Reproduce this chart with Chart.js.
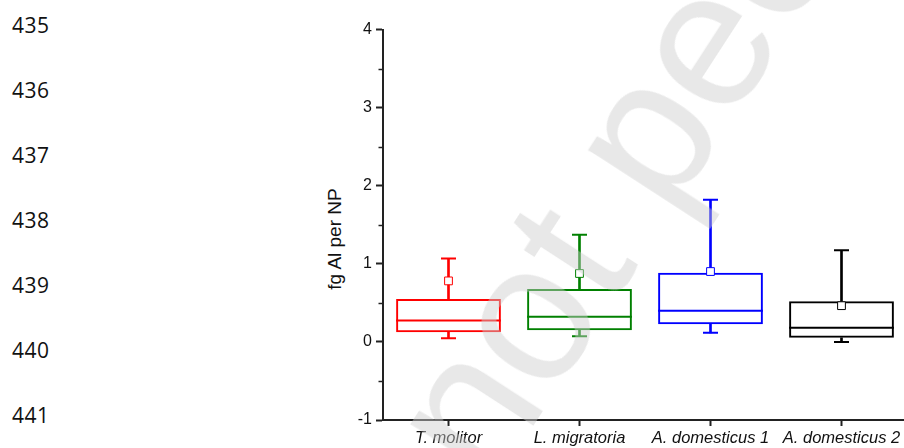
<!DOCTYPE html>
<html>
<head>
<meta charset="utf-8">
<script src="https://cdn.jsdelivr.net/npm/chart.js@4.4.1/dist/chart.umd.min.js"></script>
<style>
html,body{margin:0;padding:0;width:904px;height:448px;overflow:hidden;background:#fff;}
#wm{position:absolute;left:351.5px;top:401.6px;font-family:'Liberation Sans',Arial,sans-serif;font-size:196px;line-height:1;color:rgba(205,205,205,0.46);white-space:nowrap;transform-origin:0 0;transform:rotate(-57deg);z-index:5;}
.ln{position:absolute;left:12px;font-family:'Open Sans',sans-serif;font-size:21px;line-height:1;color:#111;letter-spacing:0.5px;}
#ytitle{position:absolute;left:334px;top:239px;font-family:'Liberation Sans',Arial,sans-serif;font-size:19px;line-height:1;color:#111;white-space:nowrap;transform:translate(-50%,-50%) rotate(-90deg);}
#wrap{position:absolute;left:0;top:0;width:908px;height:448px;z-index:1;}
</style>
</head>
<body>
<div id="lines"></div>
<div id="ytitle">fg Al per NP</div>
<div id="wrap"><canvas id="c" width="908" height="448"></canvas></div>
<div id="wm">not peer-reviewed</div>
<script>
const categories = ['T. molitor', 'L. migratoria', 'A. domesticus 1', 'A. domesticus 2'];
const whiskerLow  = [0.047, 0.073, 0.116, 0.000];
const quartile1   = [0.124, 0.150, 0.227, 0.052];
const medians     = [0.275, 0.322, 0.399, 0.180];
const quartile3   = [0.549, 0.678, 0.884, 0.519];
const whiskerHigh = [1.069, 1.373, 1.820, 1.172];
const means       = [0.781, 0.876, 0.901, 0.464];
const seriesColors = ['#ff0000', '#008000', '#0000ff', '#000000'];
const yMinorTicks = [-0.5, 0.5, 1.5, 2.5, 3.5];
const lineNumbers = ['435', '436', '437', '438', '439', '440', '441'];

// manuscript line numbers
const linesDiv = document.getElementById('lines');
lineNumbers.forEach((t, i) => {
  const d = document.createElement('div');
  d.className = 'ln';
  d.style.top = (15 + i * 65) + 'px';
  d.textContent = t;
  linesDiv.appendChild(d);
});

const FONT = "'Liberation Sans', Arial, sans-serif";
const AXIS = '#222';

const minorTicksPlugin = {
  id: 'minorTicks',
  afterDraw(chart) {
    const y = chart.scales.y, ctx = chart.ctx, x0 = chart.chartArea.left;
    ctx.save();
    ctx.strokeStyle = AXIS;
    ctx.lineWidth = 1.5;
    yMinorTicks.forEach(v => {
      const py = Math.round(y.getPixelForValue(v)) + 0.5;
      ctx.beginPath();
      ctx.moveTo(x0 - 4.5, py);
      ctx.lineTo(x0, py);
      ctx.stroke();
    });
    ctx.restore();
  }
};

new Chart(document.getElementById('c'), {
  type: 'bar',
  data: {
    labels: categories,
    datasets: [
      {
        label: 'upper whisker',
        data: categories.map((c, i) => [quartile3[i], whiskerHigh[i]]),
        backgroundColor: seriesColors,
        borderWidth: 0,
        barThickness: 2,
        grouped: false,
        order: 6
      },
      {
        label: 'lower whisker',
        data: categories.map((c, i) => [whiskerLow[i], quartile1[i]]),
        backgroundColor: seriesColors,
        borderWidth: 0,
        barThickness: 2,
        grouped: false,
        order: 6
      },
      {
        label: 'box',
        data: categories.map((c, i) => [quartile1[i], quartile3[i]]),
        backgroundColor: 'rgba(0,0,0,0)',
        borderColor: seriesColors,
        borderWidth: 2,
        borderSkipped: false,
        barPercentage: 0.8,
        categoryPercentage: 1,
        grouped: false,
        order: 5
      },
      {
        type: 'line',
        label: 'median',
        data: medians,
        showLine: false,
        pointStyle: 'line',
        pointRadius: 52.4,
        pointBorderColor: seriesColors,
        pointBorderWidth: 2,
        order: 4
      },
      {
        type: 'line',
        label: 'max',
        data: whiskerHigh,
        showLine: false,
        pointStyle: 'line',
        pointRadius: 7.5,
        pointBorderColor: seriesColors,
        pointBorderWidth: 2,
        order: 3
      },
      {
        type: 'line',
        label: 'min',
        data: whiskerLow,
        showLine: false,
        pointStyle: 'line',
        pointRadius: 7.5,
        pointBorderColor: seriesColors,
        pointBorderWidth: 2,
        order: 3
      },
      {
        type: 'line',
        label: 'mean',
        data: means,
        showLine: false,
        pointStyle: 'rect',
        pointRadius: 5.5,
        pointBackgroundColor: '#ffffff',
        pointBorderColor: seriesColors,
        pointBorderWidth: 1,
        order: 1
      }
    ]
  },
  options: {
    responsive: false,
    animation: false,
    events: [],
    layout: { autoPadding: false, padding: { left: 320, top: 29.5, right: 1, bottom: 0 } },
    plugins: { legend: { display: false }, tooltip: { enabled: false } },
    scales: {
      x: {
        offset: true,
        grid: { display: true, drawOnChartArea: false, offset: false, tickLength: 6, tickColor: AXIS, tickWidth: 2 },
        border: { display: true, color: AXIS, width: 2 },
        ticks: { color: '#111', font: { family: FONT, size: 16.5, style: 'italic' }, padding: 3, maxRotation: 0, autoSkip: false },
        afterFit: s => { s.height = 28; }
      },
      y: {
        min: -1,
        max: 4,
        ticks: { stepSize: 1, color: '#111', font: { family: FONT, size: 16 }, padding: 4 },
        grid: { drawOnChartArea: false, tickLength: 7, tickColor: AXIS, tickWidth: 2 },
        border: { display: true, color: AXIS, width: 2 },
        afterFit: s => { s.width = 63; }
      }
    }
  },
  plugins: [minorTicksPlugin]
});
</script>
</body>
</html>
